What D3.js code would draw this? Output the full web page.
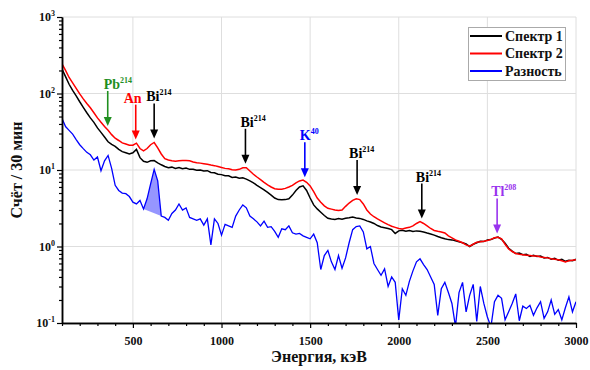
<!DOCTYPE html>
<html>
<head>
<meta charset="utf-8">
<script src="https://cdn.jsdelivr.net/npm/d3@7"></script>
<style>
  body { margin: 0; background: #fff; }
  svg { display: block; }
  svg text { font-family: "Liberation Serif", "DejaVu Serif", serif !important; font-weight: bold; }
</style>
</head>
<body>
<svg id="chart" width="590" height="370"></svg>
<script>
// channel energies, keV
const energy = d3.range(100, 3001, 20);

// Спектр 1 (black)
const spec1 = [
  209, 166, 132, 110, 93, 78, 66, 56, 48, 42,
  35.5, 31, 27, 23.4, 21.6, 20.4, 18.6, 17.4, 16.8, 16.2,
  16.8, 18.6, 14.5, 13.0, 12.6, 13.2, 13.3, 12.4, 11.7, 11.1,
  10.7, 10.9, 10.5, 10.8, 10.4, 10.6, 10.2, 10.2, 9.9, 10.0,
  9.7, 9.8, 9.3, 9.2, 8.8, 8.7, 8.4, 8.4, 8.0, 8.1,
  7.8, 7.9, 7.6, 7.2, 6.8, 6.3, 5.9, 5.5, 5.1, 4.7,
  4.3, 4.1, 4.07, 4.1, 4.2, 4.7, 5.4, 6.0, 6.2, 5.4,
  4.3, 3.5, 3.1, 2.8, 2.54, 2.34, 2.29, 2.25, 2.32, 2.27,
  2.34, 2.37, 2.42, 2.36, 2.33, 2.26, 2.16, 2.09, 2.0, 1.88,
  1.80, 1.76, 1.72, 1.66, 1.48, 1.60, 1.63, 1.58, 1.62, 1.57,
  1.60, 1.58, 1.55, 1.50, 1.46, 1.41, 1.35, 1.30, 1.26, 1.23,
  1.22, 1.19, 1.15, 1.12, 1.08, 1.0, 1.07, 1.12, 1.17, 1.16,
  1.22, 1.23, 1.29, 1.33, 1.24, 1.10, 0.95, 0.87, 0.81, 0.82,
  0.78, 0.79, 0.74, 0.77, 0.74, 0.75, 0.71, 0.72, 0.68, 0.70,
  0.66, 0.68, 0.64, 0.66, 0.65, 0.68
];

// Спектр 2 (red)
const spec2 = [
  245, 200, 162, 138, 117, 99, 85, 74, 65, 56,
  48, 42, 37, 33, 29, 26, 24.3, 22.6, 21.9, 21.1,
  21.1, 22.4, 19.1, 17.8, 19.1, 21.4, 22.9, 19.5, 16.2, 14.1,
  13.5, 13.2, 13.0, 13.2, 13.3, 13.3, 13.2, 12.7, 12.4, 12.3,
  12.1, 11.9, 11.6, 11.4, 11.1, 10.8, 10.5, 10.4, 10.1, 10.0,
  10.2, 10.7, 10.7, 9.7, 8.8, 8.1, 7.5, 6.9, 6.4, 6.0,
  5.7, 5.6, 5.6, 5.75, 6.0, 6.3, 6.8, 7.2, 7.4, 6.9,
  6.2, 5.2, 4.3, 3.8, 3.4, 3.16, 3.08, 3.0, 2.95, 3.0,
  3.35, 3.7, 4.0, 4.2, 4.1, 3.6, 3.0, 2.66, 2.45, 2.29,
  2.16, 2.04, 1.93, 1.84, 1.78, 1.72, 1.70, 1.74, 1.78, 1.86,
  2.0, 2.11, 2.0, 1.86, 1.72, 1.62, 1.58, 1.55, 1.50, 1.38,
  1.30, 1.22, 1.17, 1.12, 1.05, 1.01, 1.07, 1.14, 1.15, 1.17,
  1.20, 1.24, 1.30, 1.32, 1.26, 1.07, 0.93, 0.86, 0.81, 0.79,
  0.78, 0.77, 0.76, 0.75, 0.75, 0.73, 0.72, 0.71, 0.69, 0.68,
  0.67, 0.65, 0.63, 0.65, 0.66, 0.67
];

// Разность (blue)
const diff = [
  47, 37, 33, 29.5, 25, 21.4, 19, 17, 15.8, 13.5,
  14.8, 9.8, 13.2, 15.5, 10.5, 6.3, 5.4, 5.0, 4.9, 4.5,
  3.8, 3.6, 4.0, 3.1, 4.2, 6.6, 10.2, 7.2, 2.5, 2.4,
  2.2, 2.7, 3.0, 3.6, 3.0, 3.2, 2.4, 2.3, 2.2, 2.3,
  1.9, 2.3, 1.05, 2.3, 2.0, 1.41, 1.95, 1.86, 1.78, 2.5,
  3.0, 3.5, 3.2, 2.5, 2.3, 2.1, 1.86, 2.14, 1.78, 1.82,
  1.58, 1.32, 1.70, 1.66, 1.86, 1.51, 1.45, 1.48, 1.38, 1.32,
  1.26, 1.45, 1.12, 0.50, 0.76, 0.89, 0.63, 0.50, 0.76, 0.52,
  0.71, 1.12, 1.66, 1.82, 1.86, 1.55, 0.93, 1.0, 0.60, 0.50,
  0.42, 0.51, 0.30, 0.40, 0.34, 0.11, 0.28, 0.23, 0.35, 0.48,
  0.63, 0.69, 0.58, 0.50, 0.40, 0.32, 0.126, 0.28, 0.34, 0.25,
  0.18, 0.09, 0.25, 0.34, 0.14, 0.23, 0.32, 0.105, 0.30, 0.18,
  0.12, 0.089, 0.19, 0.23, 0.21, 0.11, 0.14, 0.18, 0.24, 0.107,
  0.166, 0.155, 0.17, 0.126, 0.158, 0.19, 0.115, 0.14, 0.20, 0.13,
  0.15, 0.11, 0.158, 0.22, 0.14, 0.19
];

// shaded region under the 609 keV difference peak
const shadeRange = [560, 660];

const xTicks = [500, 1000, 1500, 2000, 2500, 3000];
const yTicks = [0.1, 1, 10, 100, 1000];

const seriesNames = ["Спектр 1", "Спектр 2", "Разность"];
const seriesColors = ["#000000", "#ff0000", "#0000ff"];

const peaks = [
  { el: "Pb", mass: "214", energy: 358, color: "#1f8f1f", dx: 4 },
  { el: "An", mass: "", energy: 516, color: "#ff0000", dx: -4 },
  { el: "Bi", mass: "214", energy: 620, color: "#000000", dx: 0 },
  { el: "Bi", mass: "214", energy: 1135, color: "#000000", dx: 3 },
  { el: "K", mass: "40", energy: 1470, color: "#0000ff", dx: 0 },
  { el: "Bi", mass: "214", energy: 1765, color: "#000000", dx: 0 },
  { el: "Bi", mass: "214", energy: 2130, color: "#000000", dx: 2 },
  { el: "Tl", mass: "208", energy: 2555, color: "#9933ee", dx: 2 }
];

const FONT = "'Liberation Serif', 'DejaVu Serif', serif";
const W = 590, H = 370;
const m = { top: 17, right: 14, bottom: 47, left: 62 };

const svg = d3.select("#chart").style("font-family", FONT);
const x = d3.scaleLinear().domain([100, 3000]).range([m.left, W - m.right]);
const y = d3.scaleLog().domain([0.1, 1000]).range([H - m.bottom, m.top]);

svg.append("rect").attr("width", W).attr("height", H).attr("fill", "#fff");

// grid
const grid = svg.append("g").attr("stroke", "#dedede").attr("stroke-width", 1);
grid.selectAll(".gx").data(xTicks).join("line")
  .attr("x1", d => x(d)).attr("x2", d => x(d))
  .attr("y1", m.top).attr("y2", H - m.bottom);
grid.selectAll(".gy").data(yTicks).join("line")
  .attr("x1", m.left).attr("x2", W - m.right)
  .attr("y1", d => y(d)).attr("y2", d => y(d));

svg.append("clipPath").attr("id", "plot")
  .append("rect").attr("x", m.left).attr("y", m.top)
  .attr("width", W - m.left - m.right).attr("height", H - m.top - m.bottom);

const plot = svg.append("g").attr("clip-path", "url(#plot)");
const line = d3.line().x((d, i) => x(energy[i])).y(d => y(d));

// shaded peak area
const shadePts = diff.map((v, i) => [energy[i], v])
  .filter(d => d[0] >= shadeRange[0] && d[0] <= shadeRange[1]);
plot.append("path")
  .attr("d", d3.line().x(d => x(d[0])).y(d => y(d[1]))(shadePts) + "Z")
  .attr("fill", "#5050ff").attr("fill-opacity", 0.6);

plot.append("path").datum(diff).attr("d", line)
  .attr("fill", "none").attr("stroke", seriesColors[2]).attr("stroke-width", 1.3);
plot.append("path").datum(spec1).attr("d", line)
  .attr("fill", "none").attr("stroke", seriesColors[0]).attr("stroke-width", 1.5);
plot.append("path").datum(spec2).attr("d", line)
  .attr("fill", "none").attr("stroke", seriesColors[1]).attr("stroke-width", 1.5);

// axes
const xMinor = d3.range(100, 3001, 100).filter(d => !xTicks.includes(d));
const yMinor = [];
[0.1, 1, 10, 100].forEach(dec => d3.range(2, 10).forEach(k => yMinor.push(dec * k)));

function styleAxis(g) {
  g.attr("font-family", null);
  g.select(".domain").attr("stroke", "#000").attr("stroke-width", 1.5);
  g.selectAll(".tick line").attr("stroke", "#000").attr("stroke-width", 1.2);
}

svg.append("g").attr("transform", `translate(0,${H - m.bottom})`)
  .call(d3.axisBottom(x).tickValues(xMinor).tickSize(3).tickFormat("").tickSizeOuter(0))
  .call(styleAxis);
const xAx = svg.append("g").attr("transform", `translate(0,${H - m.bottom})`)
  .call(d3.axisBottom(x).tickValues(xTicks).tickSize(5).tickPadding(8)
    .tickFormat(d3.format("d")).tickSizeOuter(0))
  .call(styleAxis);
xAx.selectAll(".tick text").attr("font-size", 12).attr("fill", "#111")
  .attr("font-family", FONT).attr("font-weight", "bold");

svg.append("g").attr("transform", `translate(${m.left},0)`)
  .call(d3.axisLeft(y).tickValues(yMinor).tickSize(3).tickFormat("").tickSizeOuter(0))
  .call(styleAxis);
svg.append("g").attr("transform", `translate(${m.left},0)`)
  .call(d3.axisLeft(y).tickValues(yTicks).tickSize(5).tickFormat("").tickSizeOuter(0))
  .call(styleAxis);

const yLab = svg.append("g");
yTicks.forEach(v => {
  const t = yLab.append("text").attr("x", m.left - 7).attr("y", y(v) + 4)
    .attr("text-anchor", "end").attr("font-size", 12).attr("fill", "#111");
  t.append("tspan").text("10");
  t.append("tspan").attr("dy", -5).attr("font-size", 8).text(Math.round(Math.log10(v)));
});

// axis titles
svg.append("text")
  .attr("transform", `translate(22,${(m.top + H - m.bottom) / 2}) rotate(-90)`)
  .attr("text-anchor", "middle").attr("font-size", 16).attr("fill", "#111")
  .text("Счёт / 30 мин");
svg.append("text")
  .attr("x", (m.left + W - m.right) / 2).attr("y", 362)
  .attr("text-anchor", "middle").attr("font-size", 16).attr("fill", "#111")
  .text("Энергия, кэВ");

// peak annotations
const bis = d3.bisector(d => d).left;
function redAt(e) {
  const i = Math.min(Math.max(bis(energy, e), 1), energy.length - 1);
  const t = (e - energy[i - 1]) / (energy[i] - energy[i - 1]);
  return Math.exp(Math.log(spec2[i - 1]) * (1 - t) + Math.log(spec2[i]) * t);
}
const ann = svg.append("g");
peaks.forEach(p => {
  const px = x(p.energy);
  const tip = y(redAt(p.energy)) - 4;
  const top = tip - 35;
  ann.append("line").attr("x1", px).attr("x2", px).attr("y1", top).attr("y2", tip - 7)
    .attr("stroke", p.color).attr("stroke-width", 1.6);
  ann.append("path")
    .attr("d", `M${px - 4},${tip - 9}L${px + 4},${tip - 9}L${px},${tip}Z`)
    .attr("fill", p.color);
  const mainW = p.el.length === 1 ? 5 : 8;
  const t = ann.append("text").attr("x", px + p.dx - mainW).attr("y", top - 2)
    .attr("font-size", 14).attr("fill", p.color);
  t.append("tspan").text(p.el);
  if (p.mass) t.append("tspan").attr("dy", -6).attr("font-size", 8).text(p.mass);
});

// legend
const lg = svg.append("g");
lg.append("rect").attr("x", 468.5).attr("y", 27.5).attr("width", 97).attr("height", 53)
  .attr("fill", "#fff").attr("stroke", "#aaa").attr("stroke-width", 1);
seriesNames.forEach((name, i) => {
  const ly = 36 + i * 17.5;
  lg.append("line").attr("x1", 470).attr("x2", 502).attr("y1", ly).attr("y2", ly)
    .attr("stroke", seriesColors[i]).attr("stroke-width", 2);
  lg.append("text").attr("x", 505).attr("y", ly + 4.5).attr("font-size", 14)
    .attr("fill", "#111").text(name);
});
</script>
</body>
</html>
